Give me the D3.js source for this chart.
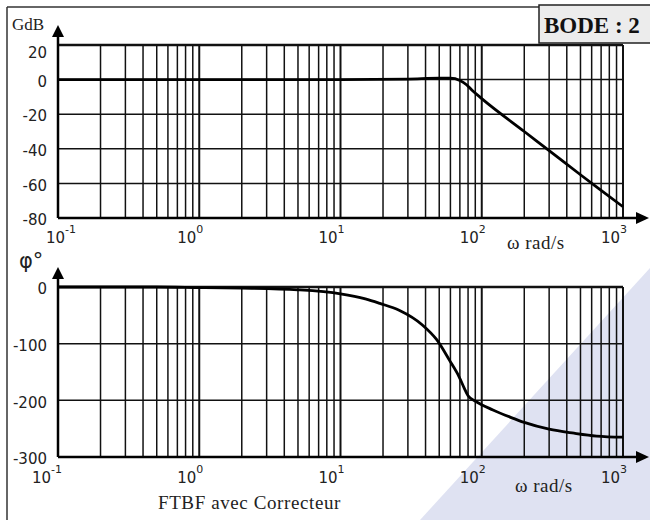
<!DOCTYPE html>
<html>
<head>
<meta charset="utf-8">
<script src="https://cdn.jsdelivr.net/npm/d3@7"></script>
<style>
  body { margin: 0; background: #fff; }
  svg { display: block; }
</style>
</head>
<body>
<div id="chart"></div>
<script>
// values
const omegaGain = [0.1, 1, 10, 30, 50, 60, 70, 78, 85, 100, 200, 300, 500, 700, 1000];
const gainDb    = [0, 0, 0, 0.3, 0.8, 0.8, -0.5, -3, -6, -11, -30, -41, -55, -64, -73.5];

const omegaPhase = [0.1, 0.5, 1, 2, 5, 10, 15, 19, 26, 38, 48, 59, 69, 75, 80, 91, 120, 160, 200, 300, 450, 650, 1000];
const phaseDeg   = [0, 0, -1, -2, -5, -12, -21, -29, -41, -67, -93, -129, -158, -178, -192, -202, -217, -230, -239, -251, -258, -263, -265];

const gainTicks = [20, 0, -20, -40, -60, -80];
const phaseTicks = [0, -100, -200, -300];
const decadeExp = [-1, 0, 1, 2, 3];

const width = 650, height = 520;
const svg = d3.select('#chart').append('svg')
    .attr('width', width)
    .attr('height', height);

// watermark in the corner
svg.append('path')
    .attr('d', 'M420,520 L650,268 L650,520 Z')
    .attr('fill', '#dfe2f2');

// outer frame
svg.append('line').attr('x1', 7).attr('y1', 7).attr('x2', 650).attr('y2', 7)
    .attr('stroke', '#333').attr('stroke-width', 1.5);
svg.append('line').attr('x1', 7).attr('y1', 7).attr('x2', 7).attr('y2', 520)
    .attr('stroke', '#333').attr('stroke-width', 1.5);

const x = d3.scaleLog().domain([0.1, 1000]).range([58, 623]);
const yGain = d3.scaleLinear().domain([-80, 20]).range([218, 45]);
const yPhase = d3.scaleLinear().domain([-300, 0]).range([457, 287]);

// all the log grid positions 0.1 .. 1000
const gridOmega = [];
[-1, 0, 1, 2].forEach(e => {
  for (let k = 1; k <= 9; k++) gridOmega.push(k * Math.pow(10, e));
});
gridOmega.push(1000);

function drawPanel(y, ticks, omega, values, opts) {
  const g = svg.append('g');
  const [y0, y1] = y.range(); // bottom, top

  g.selectAll('.vgrid')
    .data(gridOmega)
    .enter().append('line')
      .attr('x1', d => x(d)).attr('x2', d => x(d))
      .attr('y1', y1).attr('y2', y0)
      .attr('stroke', '#111')
      .attr('stroke-width', d => Math.abs(Math.log10(d) - Math.round(Math.log10(d))) < 1e-6 ? 2 : 1.5);

  g.selectAll('.hgrid')
    .data(ticks)
    .enter().append('line')
      .attr('x1', x.range()[0]).attr('x2', x.range()[1])
      .attr('y1', d => y(d)).attr('y2', d => y(d))
      .attr('stroke', '#111')
      .attr('stroke-width', d => d === y.domain()[1] ? 2.5 : 1.5);

  // axes with arrows
  g.append('line')
    .attr('x1', 58).attr('x2', 58).attr('y1', y0).attr('y2', y1 - 10)
    .attr('stroke', '#000').attr('stroke-width', 2.5);
  g.append('path')
    .attr('d', `M52,${y1 - 8} L64,${y1 - 8} L58,${y1 - 20} Z`)
    .attr('fill', '#000');
  g.append('line')
    .attr('x1', 58).attr('x2', 638).attr('y1', y0).attr('y2', y0)
    .attr('stroke', '#000').attr('stroke-width', 2.5);
  g.append('path')
    .attr('d', `M636,${y0 - 6} L636,${y0 + 6} L649,${y0} Z`)
    .attr('fill', '#000');

  // y labels
  const yAxis = g.append('g')
    .attr('transform', 'translate(47,0)')
    .call(d3.axisLeft(y).tickValues(ticks).tickSize(0).tickPadding(0).tickFormat(d3.format('d')));
  yAxis.select('.domain').remove();
  yAxis.selectAll('text')
    .attr('font-family', 'DejaVu Sans, sans-serif')
    .attr('font-size', 15)
    .attr('fill', '#222')
    .attr('text-anchor', 'end')
    .attr('dy', d => (opts.dropTop && d === y.domain()[1]) ? '0.85em' : '0.45em')
    .text(d => d < 0 ? '-' + Math.abs(d) : d);

  // x decade labels
  const lab = g.selectAll('.xlab')
    .data(decadeExp)
    .enter().append('text')
      .attr('x', (d, i) => i === 0 ? x(Math.pow(10, d)) + opts.firstShift : x(Math.pow(10, d)) - 9)
      .attr('y', opts.labelY)
      .attr('text-anchor', 'middle')
      .attr('font-family', 'DejaVu Sans, sans-serif')
      .attr('font-size', 15)
      .attr('fill', '#222');
  lab.append('tspan').text('10');
  lab.append('tspan')
    .attr('dy', -10)
    .attr('font-size', 11)
    .text(d => d);

  g.append('text')
    .attr('x', opts.unitX).attr('y', opts.unitY)
    .attr('font-family', 'Liberation Serif, serif')
    .attr('font-size', 19)
    .attr('letter-spacing', 0.5)
    .attr('fill', '#222')
    .text('ω rad/s');

  // the curve
  const line = d3.line()
    .x(d => x(d[0]))
    .y(d => y(d[1]))
    .curve(d3.curveMonotoneX);
  g.append('path')
    .datum(d3.zip(omega, values))
    .attr('d', line)
    .attr('fill', 'none')
    .attr('stroke', '#000')
    .attr('stroke-width', 2.8)
    .attr('stroke-linejoin', 'round');
}

drawPanel(yGain, gainTicks, omegaGain, gainDb,
  { dropTop: true, labelY: 243, firstShift: 3, unitX: 507, unitY: 249 });
drawPanel(yPhase, phaseTicks, omegaPhase, phaseDeg,
  { dropTop: false, labelY: 483, firstShift: -11, unitX: 515, unitY: 492 });

// axis titles
svg.append('text')
    .attr('x', 12).attr('y', 30)
    .attr('font-family', 'Liberation Serif, serif')
    .attr('font-size', 17)
    .attr('fill', '#222')
    .text('GdB');
svg.append('text')
    .attr('x', 19).attr('y', 268)
    .attr('font-family', 'DejaVu Sans, sans-serif')
    .attr('font-size', 21)
    .attr('fill', '#222')
    .text('φ°');

svg.append('text')
    .attr('x', 158).attr('y', 509)
    .attr('font-family', 'Liberation Serif, serif')
    .attr('font-size', 19)
    .attr('letter-spacing', 0.6)
    .attr('fill', '#222')
    .text('FTBF avec Correcteur');

// title box
svg.append('rect')
    .attr('x', 539).attr('y', 5)
    .attr('width', 120).attr('height', 38)
    .attr('fill', '#ececec')
    .attr('stroke', '#222')
    .attr('stroke-width', 1.5);
svg.append('text')
    .attr('x', 544).attr('y', 33)
    .attr('font-family', 'Liberation Serif, serif')
    .attr('font-weight', 'bold')
    .attr('font-size', 23)
    .attr('fill', '#111')
    .text('BODE : 2');
</script>
</body>
</html>
